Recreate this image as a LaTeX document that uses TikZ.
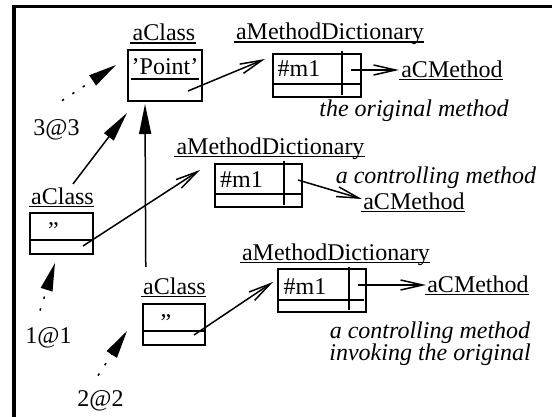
\documentclass[tikz,border=0pt]{standalone}
\usepackage{fontspec}
\setmainfont{Liberation Serif}
\usetikzlibrary{arrows.meta,calc}
\begin{document}
\begin{tikzpicture}[x=0.5pt,y=-0.5pt,
  lbl/.style={anchor=base,inner sep=0pt,font=\fontsize{12}{14}\selectfont},
  itlbl/.style={anchor=base,inner sep=0pt,align=center,font=\fontsize{12}{11}\selectfont\itshape},
  cbox/.style={draw,line width=1pt,inner sep=0pt},
  ulin/.style={line width=0.8pt},
  inner/.style={line width=0.75pt},
  conn/.style={line width=0.75pt},
  openarr/.style={conn,-{Straight Barb[length=11pt,width=5pt,line width=0.75pt]}},
  solidarr/.style={conn,-{Triangle[length=15pt,width=6pt]}},
  dotarr/.style={conn,dash pattern=on 1.2pt off 5pt,-{Triangle[length=14pt,width=6pt]}}]
\useasboundingbox (0,0) rectangle (552,417);
\clip (0,0) rectangle (552,417);
% frame
\draw[line width=1.6pt] (14,440) -- (14,6.5) -- (580,6.5);

% top class
\node[lbl] (A3lbl) at (164,41) {aClass};
\node[cbox,minimum width=37pt,minimum height=25.5pt] (A3box) at (165,75.5) {};
\node[lbl] (A3txt) at (165,75) {'Point'};

% top dictionary
\node[lbl] (D1lbl) at (330,40) {aMethodDictionary};
\node[cbox,minimum width=44pt,minimum height=21.5pt] (D1box) at (317,75.5) {};
\node[lbl] (D1txt) at (299,77) {\#m1};
\node[lbl] (M1) at (452,77.5) {aCMethod};
\node[itlbl] (orig) at (414,117) {the original method};

% middle dictionary
\node[lbl] (D2lbl) at (270.5,154.5) {aMethodDictionary};
\node[cbox,minimum width=43.5pt,minimum height=21.5pt] (D2box) at (258.5,185.5) {};
\node[lbl] (D2txt) at (241.5,188) {\#m1};
\node[lbl] (M2) at (414,209.5) {aCMethod};
\node[itlbl] (ctrlA) at (436,184) {a controlling method};

% bottom dictionary
\node[lbl] (D3lbl) at (336,260.5) {aMethodDictionary};
\node[cbox,minimum width=44pt,minimum height=21.5pt] (D3box) at (322,290.5) {};
\node[lbl] (D3txt) at (305,294) {\#m1};
\node[lbl] (M3) at (478,292.5) {aCMethod};
\node[itlbl] (ctrlB) at (430,360) {a controlling method\\invoking the original};

% left class
\node[lbl] (A1lbl) at (62.5,204.5) {aClass};
\node[cbox,minimum width=31.5pt,minimum height=20.5pt] (A1box) at (61.5,233.5) {};
\node[lbl] (A1txt) at (53.5,239) {''};

% lower class
\node[lbl] (A2lbl) at (174.5,294.5) {aClass};
\node[cbox,minimum width=31pt,minimum height=20.5pt] (A2box) at (174,324.5) {};
\node[lbl] (A2txt) at (166,330) {''};

% point labels
\node[lbl] (L3) at (56.5,136) {3@3};
\node[lbl] (L1) at (48.5,343) {1@1};
\node[lbl] (L2) at (100.5,406) {2@2};

% underlines
\foreach \n in {A3lbl,D1lbl,M1,D2lbl,M2,D3lbl,M3,A1lbl,A2lbl}
  \draw[ulin] ($(\n.base west)+(-2,2)$) -- ($(\n.base east)+(0,2)$);
\draw[ulin] ($(A3txt.base west)+(0,4)$) -- ($(A3txt.base east)+(0,4)$);

% dictionary cells
\draw[inner] ($(D1box.south west)+(0,-14)$) -- ($(D1box.south east)+(-2,-14)$);
\draw[inner] ($(D1box.north east)+(-20,-1.5)$) -- ($(D1box.south east)+(-20,-3)$);
\draw[inner] ($(D2box.south west)+(0,-14)$) -- ($(D2box.south east)+(-2,-14)$);
\draw[inner] ($(D2box.north east)+(-19,-1.5)$) -- ($(D2box.south east)+(-19,-3)$);
\draw[inner] ($(D3box.south west)+(0,-13)$) -- ($(D3box.south east)+(-3,-13)$);
\draw[inner] ($(D3box.north east)+(-18,-1.5)$) -- ($(D3box.south east)+(-18,-3)$);
% class dividers
\draw[inner] ($(A1box.south west)+(0,-15)$) -- ($(A1box.south east)+(0,-15)$);
\draw[inner] ($(A2box.south west)+(0,-15)$) -- ($(A2box.south east)+(0,-15)$);

% connectors
\draw[openarr] ($(A3box.center)+(23,15.5)$) -- ($(D1box.west)+(-7,-16.5)$);
\draw[openarr] ($(D1box.east)+(-11,-5.5)$) -- ($(M1.base west)+(-2,-7.5)$);
\draw[openarr] ($(D2box.east)+(-5,-5.5)$) -- ($(M2.base west)+(-1,-10.5)$);
\draw[openarr] ($(D3box.east)+(-9,-5.5)$) -- ($(M3.base west)+(-1,-7.5)$);
\draw[openarr] ($(A1box.east)+(-11,12.5)$) -- ($(D2box.west)+(-14,-15.5)$);
\draw[openarr] ($(A2box.east)+(-12,10.5)$) -- ($(D3box.west)+(-4,-8.5)$);

\draw[solidarr] ($(A1lbl.north)+(10.5,-3.5)$) -- ($(A3box.south west)+(0,11)$);
\draw[solidarr] ($(A2lbl.north west)+(3,-10.5)$) -- ($(A3box.south west)+(18,2)$);

\draw[dotarr] ($(L3.north)+(5.5,-19)$) -- ($(A3box.west)+(-11,-10.5)$);
\draw[dotarr] ($(L1.north)+(-8.5,-16)$) -- ($(A1box.south)+(-6.5,8)$);
\draw[dotarr] ($(L2.north)+(-2.5,-14)$) -- ($(A2box.west)+(-15,6.5)$);
\end{tikzpicture}
\end{document}
